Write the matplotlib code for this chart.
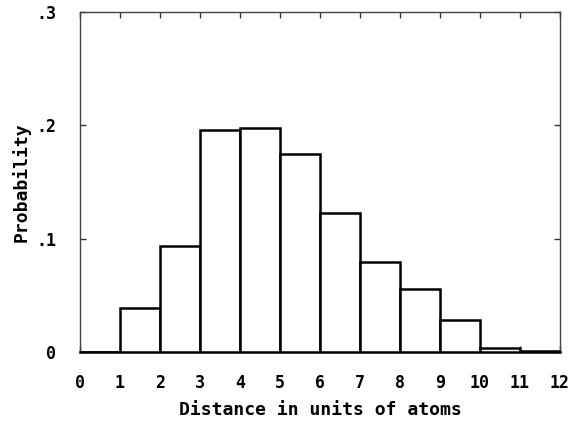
import matplotlib
matplotlib.use("Agg")
import matplotlib.pyplot as plt

# histogram of distances (bin left edges) and probabilities
bin_left = [0, 1, 2, 3, 4, 5, 6, 7, 8, 9, 10, 11]
prob = [0.0, 0.0385, 0.0935, 0.196, 0.198, 0.1745, 0.1225, 0.0795, 0.0553, 0.0282, 0.0035, 0.0008]

xticks = list(range(0, 13))
xtick_labels = [str(i) for i in xticks]
yticks = [0, 0.1, 0.2, 0.3]
ytick_labels = ['0', '.1', '.2', '.3']

plt.rcParams['font.family'] = ['DejaVu Sans Mono']
plt.rcParams['font.weight'] = 'bold'
plt.rcParams['axes.labelweight'] = 'bold'

fig = plt.figure(figsize=(5.71, 4.21), dpi=100)
ax = fig.add_axes([0.1401, 0.1639, 0.8406, 0.8076])

ax.bar(bin_left, prob, width=1.0, align='edge', facecolor='white',
       edgecolor='black', linewidth=1.8, zorder=3)

ax.set_xlim(0, 12)
ax.set_ylim(0, 0.3)
ax.set_xticks(xticks)
ax.set_xticklabels(xtick_labels)
ax.set_yticks(yticks)
ax.set_yticklabels(ytick_labels)

ax.tick_params(direction='in', length=4, width=1, top=True, right=True,
               labelsize=12, color='#333333')
ax.tick_params(axis='x', pad=16)
ax.tick_params(axis='y', pad=17)

for s in ax.spines.values():
    s.set_linewidth(1.0)
    s.set_color('#444444')
ax.spines['bottom'].set_color('black')
ax.spines['bottom'].set_linewidth(1.8)

ax.set_xlabel('Distance in units of atoms', fontsize=13, labelpad=6)
ax.set_ylabel('Probability', fontsize=13, labelpad=4)

fig.savefig('out.png', dpi=100)
